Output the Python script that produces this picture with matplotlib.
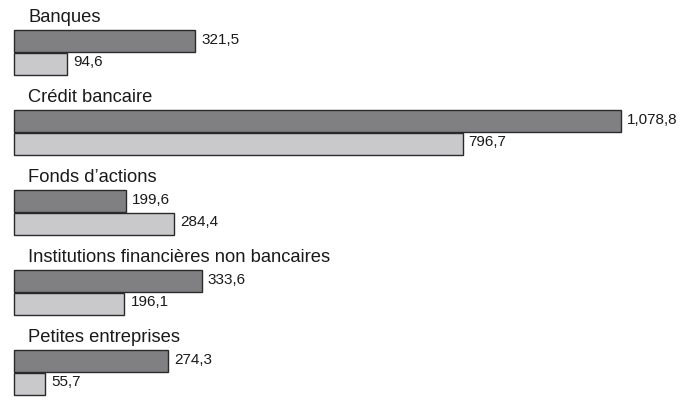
import matplotlib.pyplot as plt
import numpy as np

plt.rcParams['font.family'] = ['Liberation Sans', 'DejaVu Sans']

categories = ["Banques", "Crédit bancaire", "Fonds d\u2019actions",
              "Institutions financières non bancaires", "Petites entreprises"]
dark_values = [321.5, 1078.8, 199.6, 333.6, 274.3]
light_values = [94.6, 796.7, 284.4, 196.1, 55.7]


def fmt(v):
    # format à la française, avec virgule des milliers comme dans l'original
    s = f"{v:,.1f}"
    ent, dec = s.split(".")
    return ent + "," + dec


fig = plt.figure(figsize=(6.83, 4.0), dpi=100)
ax = fig.add_axes([0, 0, 1, 1])

px = 0.563  # pixels par unité
ax.set_xlim(-14 / px, (683 - 14) / px)
ax.set_ylim(400, 0)

bar_h = 22
step = 80
top0 = 30
gap = 6 / px

for i, cat in enumerate(categories):
    top = top0 + step * i
    y_dark = top + bar_h / 2
    y_light = top + bar_h + bar_h / 2 + 0.5
    ax.barh(y_dark, dark_values[i], height=bar_h, color='#808083',
            edgecolor='#2a2a2a', linewidth=1.0)
    ax.barh(y_light, light_values[i], height=bar_h, color='#c9c9cb',
            edgecolor='#2a2a2a', linewidth=1.0)
    ax.text((28 - 14) / px, top - 12, cat, fontsize=13.2, va='center',
            ha='left', color='#1a1a1a')
    ax.text(dark_values[i] + gap, y_dark - 1, fmt(dark_values[i]), fontsize=11,
            va='center', ha='left', color='#1a1a1a')
    ax.text(light_values[i] + gap, y_light - 1, fmt(light_values[i]), fontsize=11,
            va='center', ha='left', color='#1a1a1a')

ax.axis('off')
fig.savefig('out.png', dpi=100)
